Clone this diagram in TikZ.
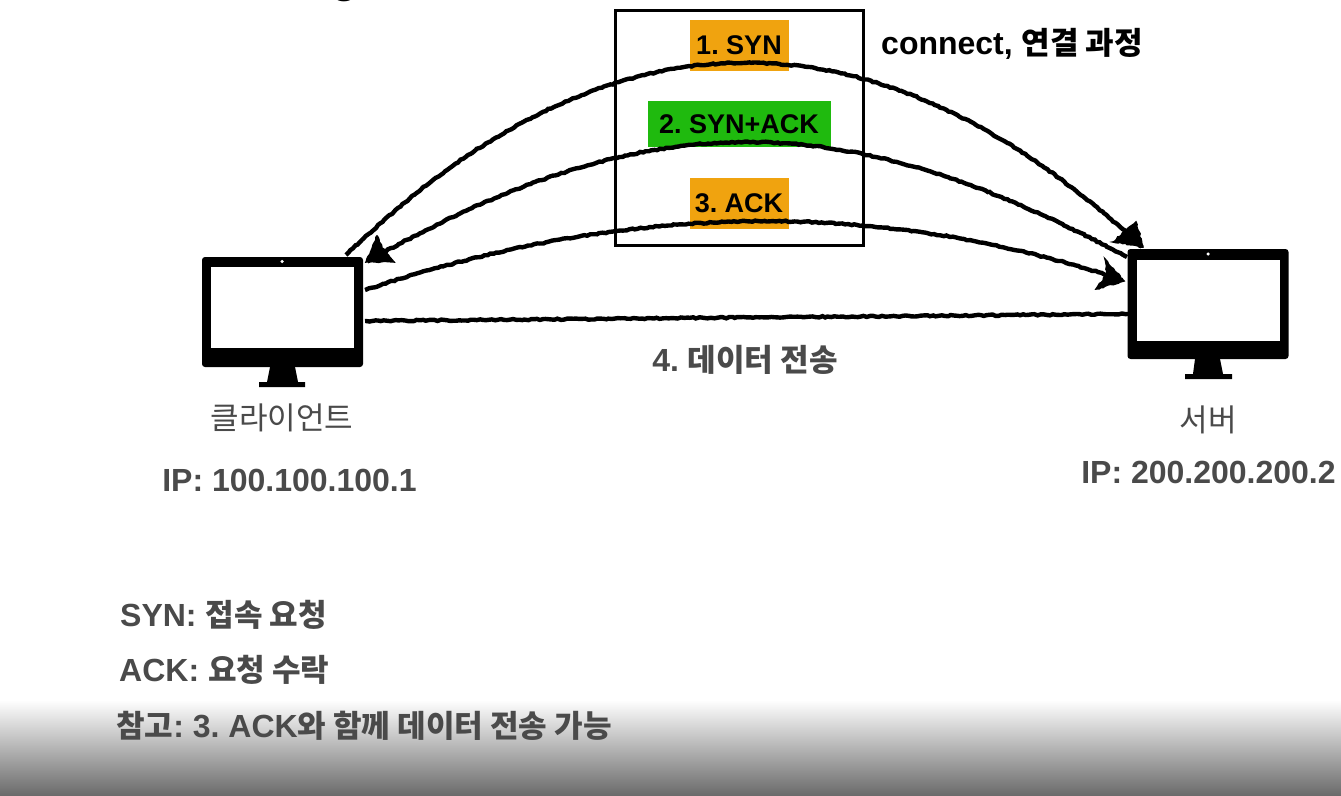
\documentclass[tikz,border=0pt]{standalone}
\usepackage{fontspec}
\setmainfont{Liberation Sans}
\newfontfamily\kr[Scale=0.97]{Noto Sans CJK KR}
\usetikzlibrary{decorations.pathmorphing}
\definecolor{synorange}{HTML}{F0A30F}
\definecolor{ackgreen}{HTML}{1FBA0E}
\definecolor{labelgrey}{HTML}{4A4A4A}
\frenchspacing
\begin{document}
\begin{tikzpicture}[x=1pt, y=-1pt]
    \tikzstyle{monitor_body} = [fill=black, rounded corners=3pt, minimum width=161pt, minimum height=110pt, inner sep=0pt]
    \tikzstyle{monitor_screen} = [fill=white, minimum width=143pt, minimum height=81pt, inner sep=0pt]
    \tikzstyle{monitor_cam} = [circle, fill=white, minimum size=3.5pt, inner sep=0pt]
    \tikzstyle{step_orange} = [fill=synorange, minimum width=99pt, minimum height=51pt, inner sep=0pt, font=\bfseries\fontsize{27}{27}\selectfont]
    \tikzstyle{step_green} = [fill=ackgreen, minimum width=183pt, minimum height=46pt, inner sep=0pt, font=\bfseries\fontsize{27}{27}\selectfont]
    \tikzstyle{grey_label} = [text=labelgrey, font=\bfseries\fontsize{32}{32}\selectfont, inner sep=0pt]
    \tikzstyle{name_label} = [text=labelgrey, font=\kr\fontsize{32}{32}\selectfont, inner sep=0pt]
    \tikzstyle{rough} = [black, line width=4.4pt, decorate, decoration={random steps, segment length=3pt, amplitude=0.7pt, pre length=1pt, post length=1pt}]
    \tikzstyle{rough_tip} = [black, fill=black, line width=1.5pt, decorate, decoration={random steps, segment length=2.5pt, amplitude=0.8pt, pre length=1pt, post length=1pt}]

    % page and fading band
    \useasboundingbox (0,0) rectangle (1341,795);
    \fill[white] (0,0) rectangle (1341,795);
    \shade[top color=white, bottom color=black!58] (0,700) rectangle (1341,795);
    \node[inner sep=0pt, font=\bfseries\fontsize{44}{44}\selectfont, anchor=base] (title) at (345,-8) {g};

    % steps
    \node[step_orange] (nSyn) at (739,45) {1. SYN};
    \node[step_green] (nSynAck) at (739,124) {2. SYN+ACK};
    \node[step_orange] (nAck) at (739,203) {3. ACK};
    \node[draw=black, line width=3pt, minimum width=248pt, minimum height=235pt, inner sep=0pt] (nBox) at (739,127.5) {};

    % computers
    \node[monitor_body] (nClient) at (282.5,312) {};
    \node[monitor_screen] (nClientScreen) at (282,307.5) {};
    \node[monitor_cam] (nClientCam) at (282,261.5) {};
    \fill[black] (270,367) -- (295,367) -- (298,382) -- (305,382) -- (305,387) -- (259,387) -- (259,382) -- (267,382) -- cycle;

    \node[monitor_body] (nServer) at (1208,304) {};
    \node[monitor_screen] (nServerScreen) at (1208.5,300) {};
    \node[monitor_cam] (nServerCam) at (1208,254) {};
    \fill[black] (1195,359) -- (1220,359) -- (1223,374) -- (1232,374) -- (1232,379) -- (1185,379) -- (1185,374) -- (1193,374) -- cycle;

    \coordinate (cA) at (346,255);
    \coordinate (cB) at (1141,246);
    \coordinate (cC) at (1127,257);
    \coordinate (cD) at (368,261);
    \coordinate (cE) at (365,290);
    \coordinate (cF) at (1122,280);
    \coordinate (cG) at (365,321);
    \coordinate (cH) at (1128,314);

    \draw[rough] (cA) .. controls (610,0) and (875,0) .. (cB);
    \draw[rough] (cC) .. controls (839,103) and (650,103) .. (cD);
    \draw[rough] (cE) .. controls (635,200) and (882,200) .. (cF);
    \draw[rough] (cG) -- (cH);

    % arrow heads
    \draw[rough_tip] (1143,247) -- (1136,222) -- (1125,231) -- (1113,242) -- cycle;
    \draw[rough_tip] (366,262) -- (377,236) -- (382,248) -- (394,262) -- cycle;
    \draw[rough_tip] (1124,281) -- (1105,259) -- (1107,274) -- (1096,289) -- cycle;

    % labels
    \node[inner sep=0pt, anchor=west, font=\bfseries\fontsize{32}{32}\selectfont] (nConnect) at (881,44) {connect, {\kr 연결 과정}};
    \node[grey_label] (nData) at (745,360) {4. {\kr 데이터 전송}};
    \node[name_label] (nClientName) at (282,418) {클라이언트};
    \node[name_label] (nServerName) at (1208,420) {서버};
    \node[grey_label] (nClientIp) at (289.5,480) {IP: 100.100.100.1};
    \node[grey_label] (nServerIp) at (1208.5,472) {IP: 200.200.200.2};
    \node[grey_label, anchor=west] (nNote1) at (120,615) {SYN: {\kr 접속 요청}};
    \node[grey_label, anchor=west] (nNote2) at (119,670) {ACK: {\kr 요청 수락}};
    \node[grey_label, anchor=west] (nNote3) at (116,726) {{\kr 참고}: 3. ACK{\kr 와 함께 데이터 전송 가능}};
\end{tikzpicture}
\end{document}
